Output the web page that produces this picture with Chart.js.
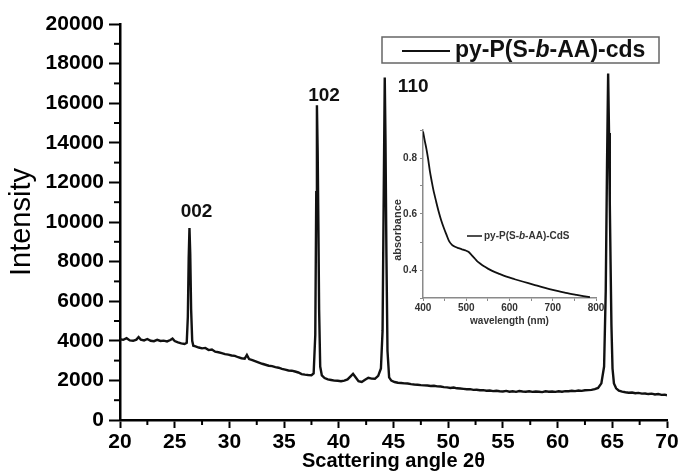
<!DOCTYPE html>
<html>
<head>
<meta charset="utf-8">
<script src="https://cdn.jsdelivr.net/npm/chart.js@4.4.1/dist/chart.umd.min.js"></script>
<style>
  html, body { margin: 0; padding: 0; background: #fff; }
  #wrap { position: relative; width: 681px; height: 473px; }
  #main { position: absolute; left: 0; top: 0; }
  #inset { position: absolute; left: 380px; top: 120px; }
</style>
</head>
<body>
<div id="wrap">
  <canvas id="main" width="681" height="473"></canvas>
  <canvas id="inset" width="230" height="212"></canvas>
</div>
<script>
const FONT = "'Liberation Sans', Arial, sans-serif";

// XRD pattern
const angle = [
  20.0, 20.3, 20.6, 20.9, 21.2, 21.5, 21.7, 21.9, 22.2, 22.5, 22.8, 23.1, 23.4, 23.7, 24.0, 24.3, 24.6, 24.8, 25.0, 25.3,
  25.6, 25.9, 26.1, 26.2, 26.28, 26.35, 26.42, 26.5, 26.6, 26.7, 26.9, 27.2, 27.5, 27.8, 28.1, 28.4, 28.7, 29.0, 29.3, 29.6,
  29.9, 30.2, 30.5, 30.8, 31.1, 31.4, 31.6, 31.8, 32.1, 32.4, 32.7, 33.0, 33.3, 33.6, 33.9, 34.2, 34.5, 34.8, 35.1, 35.4,
  35.7, 36.0, 36.3, 36.6, 36.9, 37.2, 37.5, 37.7, 37.85, 37.94, 38.0, 38.07, 38.14, 38.2, 38.3, 38.45, 38.7, 39.0, 39.3, 39.6,
  39.9, 40.2, 40.5, 40.8, 41.1, 41.3, 41.5, 41.8, 42.1, 42.4, 42.7, 43.0, 43.3, 43.6, 43.85, 44.0, 44.1, 44.2, 44.27, 44.35,
  44.45, 44.6, 44.8, 45.1, 45.4, 45.7, 46.0, 46.3, 46.6, 46.9, 47.2, 47.5, 47.8, 48.1, 48.4, 48.7, 49.0, 49.3, 49.6, 49.9,
  50.2, 50.5, 50.8, 51.1, 51.4, 51.7, 52.0, 52.3, 52.6, 52.9, 53.2, 53.5, 53.8, 54.1, 54.4, 54.7, 55.0, 55.3, 55.6, 55.9,
  56.2, 56.5, 56.8, 57.1, 57.4, 57.7, 58.0, 58.3, 58.6, 58.9, 59.2, 59.5, 59.8, 60.1, 60.4, 60.7, 61.0, 61.3, 61.6, 61.9,
  62.2, 62.5, 62.8, 63.1, 63.4, 63.7, 64.0, 64.25, 64.4, 64.52, 64.62, 64.7, 64.77, 64.84, 64.92, 65.02, 65.15, 65.35, 65.6, 65.9,
  66.2, 66.5, 66.8, 67.1, 67.4, 67.7, 68.0, 68.3, 68.6, 68.9, 69.2, 69.5, 69.8, 70.0
];
const intensity = [
  4080, 4050, 4130, 4020, 4000, 4060, 4190, 4060, 4020, 4090, 4000, 3980, 4050, 3990, 4010, 3970, 4040, 4110, 3990, 3920,
  3870, 3840, 3900, 5200, 8200, 9700, 8400, 5600, 4000, 3750, 3720, 3660, 3620, 3640, 3530, 3560, 3450, 3420, 3380, 3330,
  3300, 3260, 3240, 3170, 3120, 3100, 3290, 3080, 3020, 2960, 2900, 2840, 2790, 2740, 2720, 2670, 2640, 2580, 2540, 2500,
  2490, 2450, 2400, 2320, 2290, 2270, 2260, 2350, 4300, 11500, 15900, 13500, 9500, 5600, 2700, 2250, 2120, 2050, 2020, 1990,
  1980, 1960, 1990, 2050, 2220, 2330, 2180, 1960, 1920, 2030, 2130, 2090, 2080, 2230, 2600, 4500, 11000, 17300, 14000, 8500,
  3500, 2150, 1990, 1920, 1880, 1870, 1850, 1840, 1810, 1790, 1780, 1760, 1750, 1740, 1720, 1730, 1700, 1690, 1660, 1650,
  1620, 1640, 1600, 1590, 1570, 1550, 1560, 1520, 1530, 1500, 1510, 1480, 1490, 1460, 1480, 1450, 1440, 1470, 1430, 1450,
  1420, 1460, 1440, 1430, 1450, 1420, 1440, 1430, 1410, 1450, 1430, 1440, 1420, 1450, 1430, 1460, 1450, 1480, 1460, 1490,
  1470, 1500, 1510, 1520, 1560, 1620, 1850, 2700, 6500, 13000, 17500, 14500, 11000, 8000, 4800, 2600, 1850, 1600, 1480, 1430,
  1400, 1380, 1390, 1350, 1370, 1330, 1340, 1310, 1330, 1290, 1310, 1270, 1280, 1250
];

// UV-vis inset
const wavelength = [400, 404, 408, 412, 416, 420, 424, 430, 436, 442, 448, 454, 460, 467, 474, 482, 490, 498, 505, 511,
  518, 525, 532, 540, 550, 560, 575, 593, 612, 632, 655, 680, 705, 730, 755, 786];
const absorbance = [0.895, 0.862, 0.832, 0.795, 0.752, 0.718, 0.686, 0.647, 0.610, 0.578, 0.551, 0.527, 0.504, 0.490, 0.483, 0.478, 0.474, 0.470, 0.465, 0.456,
  0.444, 0.432, 0.423, 0.414, 0.405, 0.397, 0.387, 0.376, 0.367, 0.358, 0.348, 0.337, 0.327, 0.318, 0.311, 0.303];

const peakNames = ['002', '102', '110'];
const legendParts = [['py-P(S-', false], ['b', true], ['-AA)-cds', false]];
const insetLegendParts = [['py-P(S-', false], ['b', true], ['-AA)-CdS', false]];

function drawMixed(ctx, parts, x, y, size, color) {
  ctx.fillStyle = color;
  ctx.textBaseline = 'middle';
  ctx.textAlign = 'left';
  parts.forEach(([t, it]) => {
    ctx.font = (it ? 'italic ' : '') + 'bold ' + size + 'px ' + FONT;
    ctx.fillText(t, x, y);
    x += ctx.measureText(t).width;
  });
}

// minor ticks, peak labels and the framed legend
const mainDecor = {
  id: 'mainDecor',
  afterDraw(chart) {
    const ctx = chart.ctx;
    const xs = chart.scales.x, ys = chart.scales.y;
    const area = chart.chartArea;
    ctx.save();
    ctx.strokeStyle = '#000';
    ctx.lineWidth = 2;
    for (let v = 22.5; v < 70; v += 5) {
      const px = xs.getPixelForValue(v);
      ctx.beginPath(); ctx.moveTo(px, area.bottom); ctx.lineTo(px, area.bottom + 5); ctx.stroke();
    }
    for (let v = 1000; v < 20000; v += 2000) {
      const py = ys.getPixelForValue(v);
      ctx.beginPath(); ctx.moveTo(area.left, py); ctx.lineTo(area.left - 6, py); ctx.stroke();
    }

    const spots = [[27.0, 10500], [38.65, 16360], [46.8, 16820]];
    ctx.fillStyle = '#111';
    ctx.font = 'bold 19px ' + FONT;
    ctx.textAlign = 'center';
    ctx.textBaseline = 'middle';
    peakNames.forEach((n, i) => {
      ctx.fillText(n, xs.getPixelForValue(spots[i][0]), ys.getPixelForValue(spots[i][1]));
    });

    // legend box
    ctx.strokeStyle = '#666';
    ctx.lineWidth = 1.5;
    ctx.strokeRect(382, 37, 277, 26);
    ctx.strokeStyle = '#111';
    ctx.lineWidth = 2;
    ctx.beginPath(); ctx.moveTo(402, 51); ctx.lineTo(450, 51); ctx.stroke();
    drawMixed(ctx, legendParts, 455, 51, 23, '#111');
    ctx.restore();
  }
};

new Chart(document.getElementById('main').getContext('2d'), {
  type: 'line',
  data: {
    datasets: [{
      label: 'py-P(S-b-AA)-cds',
      data: angle.map((a, i) => ({ x: a, y: intensity[i] })),
      borderColor: '#111',
      borderWidth: 2.4,
      pointRadius: 0,
      tension: 0
    }]
  },
  options: {
    responsive: false,
    animation: false,
    layout: { padding: { top: 24, right: 14, left: 0, bottom: 0 } },
    plugins: { legend: { display: false }, tooltip: { enabled: false } },
    scales: {
      x: {
        type: 'linear', min: 20, max: 70,
        afterFit(s) { s.height = 53; },
        border: { display: true, color: '#000', width: 2.5 },
        grid: {
          drawOnChartArea: false, tickLength: 8, tickWidth: 2,
          tickColor: c => (c.tick && c.tick.value % 5 === 0) ? '#000' : 'rgba(0,0,0,0)'
        },
        ticks: {
          stepSize: 2.5, autoSkip: false, maxRotation: 0, padding: 2, color: '#000',
          font: { family: FONT, size: 21, weight: 'bold' },
          callback: v => v % 5 === 0 ? v : ''
        },
        title: {
          display: true, text: 'Scattering angle 2θ', color: '#000',
          font: { family: FONT, size: 20, weight: 'bold' }, padding: { top: 0, bottom: 0 }
        }
      },
      y: {
        min: 0, max: 20000,
        afterFit(s) { s.width = 120; },
        border: { display: true, color: '#000', width: 2.5 },
        grid: {
          drawOnChartArea: false, tickLength: 11, tickWidth: 2,
          tickColor: c => (c.tick && c.tick.value % 2000 === 0) ? '#000' : 'rgba(0,0,0,0)'
        },
        ticks: {
          stepSize: 1000, autoSkip: false, padding: 5, color: '#000',
          font: { family: FONT, size: 21, weight: 'bold' },
          callback: v => v % 2000 === 0 ? v : ''
        },
        title: {
          display: true, text: 'Intensity', color: '#000',
          font: { family: FONT, size: 29 }, padding: { top: 5, bottom: 0 }
        }
      }
    }
  },
  plugins: [mainDecor]
});

// inset: y title and legend
const insetDecor = {
  id: 'insetDecor',
  afterDraw(chart) {
    const ctx = chart.ctx;
    ctx.save();
    ctx.fillStyle = '#333';
    ctx.font = 'bold 11px ' + FONT;
    ctx.textAlign = 'center';
    ctx.textBaseline = 'middle';
    ctx.translate(18, 110);
    ctx.rotate(-Math.PI / 2);
    ctx.fillText('absorbance', 0, 0);
    ctx.restore();

    ctx.save();
    ctx.strokeStyle = '#222';
    ctx.lineWidth = 1.6;
    ctx.beginPath(); ctx.moveTo(87, 116); ctx.lineTo(102, 116); ctx.stroke();
    drawMixed(ctx, insetLegendParts, 104, 116, 10, '#333');
    ctx.restore();
  }
};

new Chart(document.getElementById('inset').getContext('2d'), {
  type: 'line',
  data: {
    datasets: [{
      label: 'py-P(S-b-AA)-CdS',
      data: wavelength.map((w, i) => ({ x: w, y: absorbance[i] })),
      borderColor: '#111',
      borderWidth: 1.8,
      pointRadius: 0,
      tension: 0.3
    }]
  },
  options: {
    responsive: false,
    animation: false,
    layout: { padding: { top: 10, right: 14, left: 0, bottom: 0 } },
    plugins: { legend: { display: false }, tooltip: { enabled: false } },
    scales: {
      x: {
        type: 'linear', min: 400, max: 800,
        afterFit(s) { s.height = 34; },
        border: { display: true, color: '#8a8a8a', width: 1.5 },
        grid: { drawOnChartArea: false, tickLength: 3, tickWidth: 1, tickColor: '#8a8a8a' },
        ticks: {
          stepSize: 50, autoSkip: false, maxRotation: 0, padding: 1, color: '#333',
          font: { family: FONT, size: 10, weight: 'bold' },
          callback: v => v % 100 === 0 ? v : ''
        },
        title: {
          display: true, text: 'wavelength (nm)', color: '#333',
          font: { family: FONT, size: 10, weight: 'bold' }, padding: { top: 0, bottom: 5 }
        }
      },
      y: {
        min: 0.3, max: 0.9,
        afterFit(s) { s.width = 43; },
        border: { display: true, color: '#8a8a8a', width: 1.5 },
        grid: { drawOnChartArea: false, tickLength: 3, tickWidth: 1, tickColor: '#8a8a8a' },
        ticks: {
          stepSize: 0.1, autoSkip: false, padding: 3, color: '#333',
          font: { family: FONT, size: 10, weight: 'bold' },
          callback: v => [4, 6, 8].includes(Math.round(v * 10)) ? v.toFixed(1) : ''
        }
      }
    }
  },
  plugins: [insetDecor]
});
</script>
</body>
</html>
